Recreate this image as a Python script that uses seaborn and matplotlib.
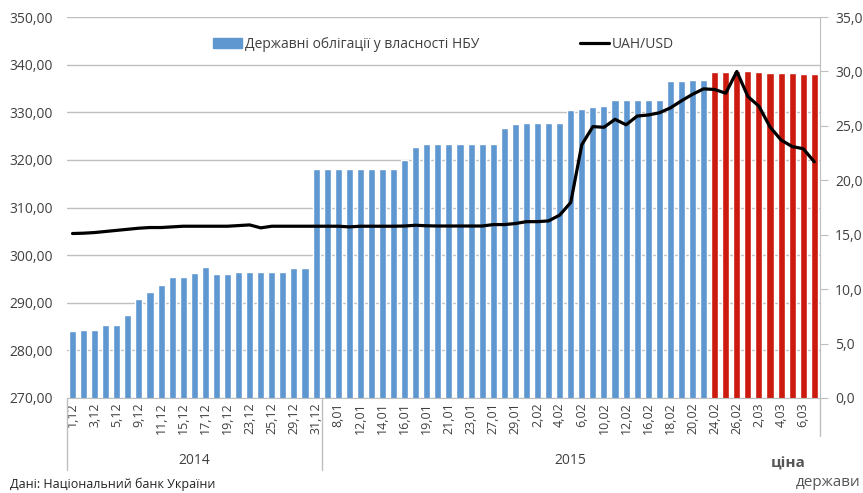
import numpy as np
import pandas as pd
import matplotlib.pyplot as plt
import matplotlib.lines as mlines
import matplotlib.patches as mpatches
import seaborn as sns

# trading days, Dec 2014 - Mar 2015 (every second one is labelled on the axis)
dates = ["1,12", "2,12", "3,12", "4,12", "5,12", "8,12", "9,12", "10,12", "11,12", "12,12",
         "15,12", "16,12", "17,12", "18,12", "19,12", "22,12", "23,12", "24,12", "25,12", "26,12",
         "29,12", "30,12", "31,12",
         "5,01", "8,01", "9,01", "12,01", "13,01", "14,01", "15,01", "16,01", "17,01", "19,01",
         "20,01", "21,01", "22,01", "23,01", "26,01", "27,01", "28,01", "29,01", "30,01",
         "2,02", "3,02", "4,02", "5,02", "6,02", "9,02", "10,02", "11,02", "12,02", "13,02",
         "16,02", "17,02", "18,02", "19,02", "20,02", "23,02", "24,02", "25,02", "26,02", "27,02",
         "2,03", "3,03", "4,03", "5,03", "6,03", "10,03"]

# state bonds held by NBU, bn UAH (left axis)
bonds = [284.0, 284.2, 284.2, 285.3, 285.3, 287.4, 290.7, 292.2, 293.7, 295.4,
         295.4, 296.2, 297.6, 296.0, 296.0, 296.5, 296.5, 296.5, 296.5, 296.5,
         297.4, 297.4, 318.1,
         318.1, 318.1, 318.1, 318.1, 318.1, 318.1, 318.1, 319.9, 322.7, 323.4,
         323.4, 323.4, 323.4, 323.4, 323.4, 323.4, 326.7, 327.6, 327.8,
         327.8, 327.8, 327.8, 330.5, 330.6, 331.2, 331.3, 332.6, 332.5, 332.5,
         332.5, 332.5, 336.6, 336.6, 336.8, 336.8, 338.5, 338.5, 338.7, 338.6,
         338.5, 338.3, 338.2, 338.2, 338.1, 338.1]

# UAH/USD rate (right axis)
rate = [15.11, 15.14, 15.2, 15.3, 15.4, 15.5, 15.6, 15.66, 15.66, 15.72,
        15.78, 15.78, 15.78, 15.78, 15.78, 15.84, 15.9, 15.63, 15.78, 15.78,
        15.78, 15.78, 15.78,
        15.78, 15.78, 15.72, 15.78, 15.78, 15.78, 15.78, 15.8, 15.87, 15.82,
        15.8, 15.8, 15.8, 15.8, 15.8, 15.93, 15.93, 16.03, 16.2,
        16.2, 16.27, 16.8, 17.96, 23.27, 24.93, 24.87, 25.6, 25.1, 25.9,
        26.0, 26.2, 26.65, 27.3, 27.9, 28.4, 28.34, 28.0, 30.0, 27.7,
        26.8, 24.9, 23.7, 23.1, 22.9, 21.7]

years = ["2014", "2015"]
first_2015 = 23   # index of first bar in 2015
first_red = 58    # 24,02 onwards shown in red

blue = "#5F97D0"
red = "#CC1A0E"

df = pd.DataFrame({"date": dates, "bonds": bonds, "rate": rate})
df["pos"] = np.arange(len(df))
colors = [blue if i < first_red else red for i in range(len(df))]

sns.set_style("white")
plt.rcParams["font.family"] = ["Open Sans", "DejaVu Sans"]

fig, ax = plt.subplots(figsize=(8.63, 4.93), dpi=100)
fig.subplots_adjust(left=0.0776, right=0.950, top=0.9655, bottom=0.1927)

sns.barplot(data=df, x="date", y="bonds", hue="date", palette=colors,
            legend=False, width=0.64, saturation=1, ax=ax, zorder=2)
ax.set_ylim(270, 350)
ax.set_xlim(-0.5, len(df) - 0.5)
ax.set_yticks(np.arange(270, 351, 10))
ax.set_yticklabels([f"{v:.2f}".replace(".", ",") for v in np.arange(270, 351, 10)],
                   fontsize=10, color="#404040")
ax.yaxis.grid(True, color="#BFBFBF", linewidth=1)
ax.set_axisbelow(True)
ax.set_xticks(df["pos"][::2])
ax.set_xticklabels(df["date"][::2], rotation=90, fontsize=9, color="#404040")
ax.tick_params(axis="x", length=0, pad=3)
ax.tick_params(axis="y", length=0, pad=10)
ax.set_xlabel("")
ax.set_ylabel("")
for s in ["left", "top", "right"]:
    ax.spines[s].set_visible(False)
ax.spines["bottom"].set_color("#BFBFBF")

ax2 = ax.twinx()
sns.lineplot(data=df, x="pos", y="rate", color="black", linewidth=2.3, ax=ax2, zorder=3)
ax2.set_ylim(0, 35)
ax2.set_yticks(np.arange(0, 36, 5))
ax2.set_yticklabels([f"{v:.1f}".replace(".", ",") for v in np.arange(0, 36, 5)],
                    fontsize=10, color="#404040")
ax2.tick_params(axis="y", length=6, color="#BFBFBF", pad=5)
ax2.set_ylabel("")
ax2.set_xlabel("")
for s in ["left", "top", "bottom"]:
    ax2.spines[s].set_visible(False)
ax2.spines["right"].set_color("#BFBFBF")

# year grouping below the category labels
trans = ax.get_xaxis_transform()
for xpos in [-0.5, first_2015 - 0.5]:
    ax.add_line(mlines.Line2D([xpos, xpos], [0, -0.19], transform=trans,
                              color="#BFBFBF", linewidth=1, clip_on=False))
ax.add_line(mlines.Line2D([len(df) - 0.5, len(df) - 0.5], [0, -0.1], transform=trans,
                          color="#BFBFBF", linewidth=1, clip_on=False))
ax.text((first_2015 - 1) / 2, -0.165, years[0], transform=trans, ha="center",
        va="center", fontsize=10, color="#404040")
ax.text((first_2015 + len(df) - 1) / 2, -0.165, years[1], transform=trans, ha="center",
        va="center", fontsize=10, color="#404040")

handles = [mpatches.Patch(color=blue, label="Державні облігації у власності НБУ"),
           mlines.Line2D([], [], color="black", linewidth=2.3, label="UAH/USD")]
ax2.legend(handles=handles, loc="center", bbox_to_anchor=(0.5, 0.929), ncol=2,
           frameon=False, fontsize=10, columnspacing=7.2, handlelength=2.1,
           handletextpad=0.2, labelcolor="#404040")

fig.text(0.012, 0.004, "Дані: Національний банк України", fontsize=9,
         color="#222222", va="bottom")
fig.text(0.893, 0.045, "ціна", fontsize=11, fontweight="bold", color="#555555",
         va="bottom")
fig.text(0.997, 0.006, "держави", fontsize=11, color="#555555", ha="right",
         va="bottom")

fig.savefig("out.png", dpi=100)
